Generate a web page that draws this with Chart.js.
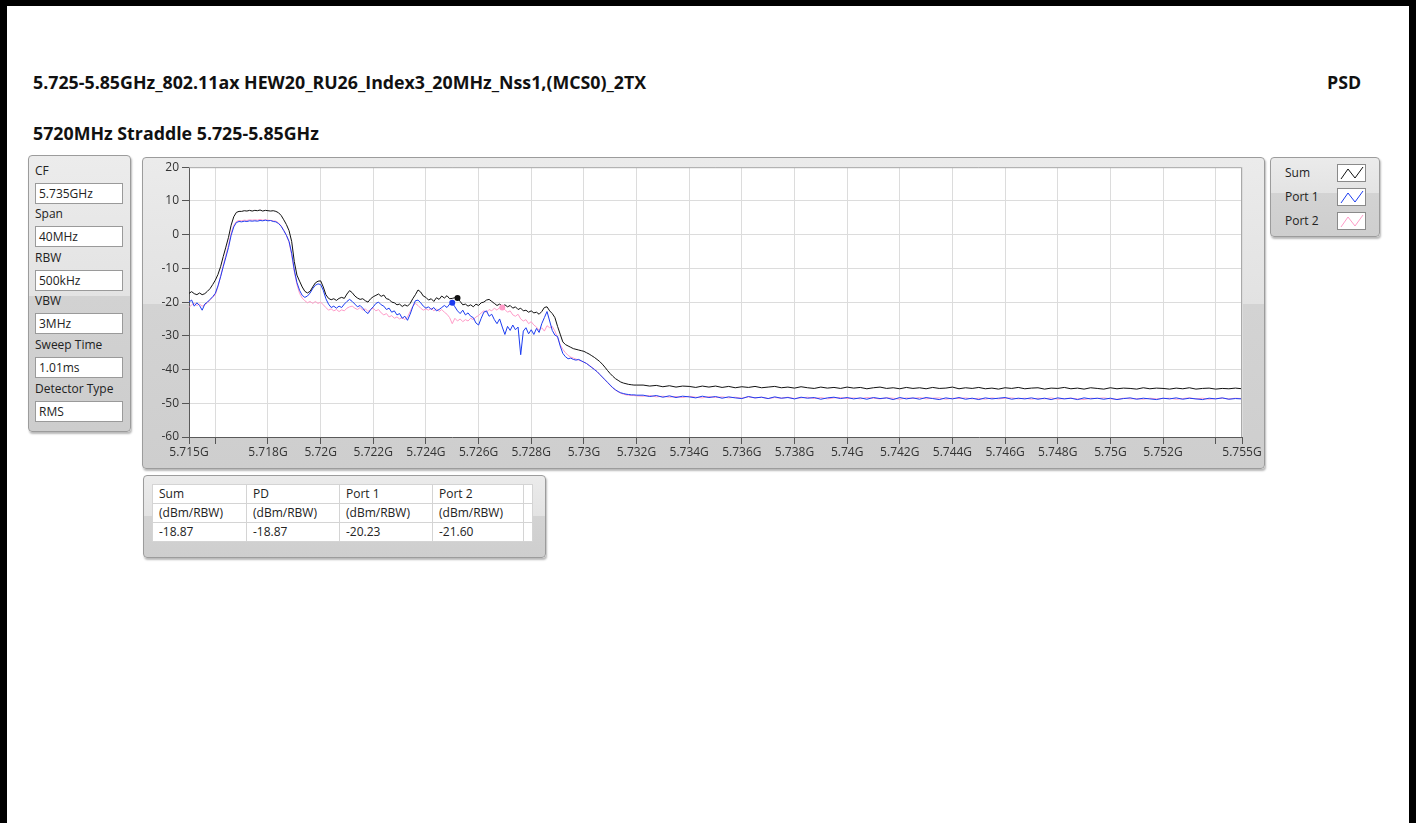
<!DOCTYPE html>
<html>
<head>
<meta charset="utf-8">
<script src="https://cdn.jsdelivr.net/npm/chart.js@4.4.1/dist/chart.umd.min.js"></script>
<style>
  body { margin:0; width:1416px; height:823px; overflow:hidden; background:#fff;
         font-family:"Open Sans","Noto Sans",sans-serif; font-size:12px; color:#222; }
  #page { position:absolute; left:0; top:0; width:1416px; height:823px; box-sizing:border-box;
          border-left:7px solid #000; border-top:6px solid #000; border-right:7px solid #000; }
  .title { position:absolute; font-weight:bold; font-size:17.8px; line-height:22px; color:#111; white-space:nowrap; }
  .panel { position:absolute; box-sizing:border-box; border:1px solid #9c9c9c; border-radius:4px;
           box-shadow:1px 2px 2px rgba(0,0,0,0.28); }
  .lbl { position:absolute; left:35px; line-height:16px; white-space:nowrap; color:#222; }
  .fld { position:absolute; left:35px; width:88px; height:21px; box-sizing:border-box; background:#fff;
         border:1px solid #9a9a9a; padding-left:3px; line-height:19px; }
  .leg { position:absolute; left:1285px; line-height:16px; }
  .sw { position:absolute; left:1337px; width:29px; height:18px; box-sizing:border-box; background:#fff; border:1px solid #8a8a8a; }
  #tbl { position:absolute; left:152px; top:484px; border-collapse:collapse; background:#fff; border:1px solid #a8a8a8; table-layout:fixed; }
  #tbl td { border:1px solid #d4d4d4; padding:0 0 0 6px; height:18px; line-height:16px; white-space:nowrap; }
  #chart { position:absolute; left:142px; top:157px; }
</style>
</head>
<body>
<div id="page"></div>

<div class="title" style="left:33px;top:71px">5.725-5.85GHz_802.11ax HEW20_RU26_Index3_20MHz_Nss1,(MCS0)_2TX</div>
<div class="title" style="left:1327px;top:71px">PSD</div>
<div class="title" style="left:33px;top:122px">5720MHz Straddle 5.725-5.85GHz</div>

<div class="panel" style="left:28px;top:155px;width:103px;height:277px;background:linear-gradient(to bottom,#ececec 0%,#e3e3e3 51%,#d2d2d2 51%,#cdcdcd 100%)"></div>
<div id="params"></div>

<div class="panel" style="left:142px;top:157px;width:1123px;height:312px;background:linear-gradient(to bottom,#ebebeb 0%,#e2e2e2 47%,#d3d3d3 47%,#cecece 100%)"></div>
<canvas id="chart" width="1123" height="311"></canvas>

<div class="panel" style="left:1270px;top:157px;width:110px;height:80px;background:linear-gradient(to bottom,#ebebeb 0%,#e3e3e3 45%,#d3d3d3 45%,#cecece 100%)"></div>
<div id="legend"></div>

<div class="panel" style="left:143px;top:475px;width:403px;height:83px;background:linear-gradient(to bottom,#ebebeb 0%,#e3e3e3 50%,#d3d3d3 50%,#cecece 100%)"></div>
<table id="tbl"></table>

<script>
// sweep grid: fine part 5715.0..5732.0 MHz step 0.1, coarse part 5732.25..5755.0 step 0.25
const fineStart = 5715.0, fineStep = 0.1;
const coarseStart = 5732.25, coarseStep = 0.25;

const sumFine = [
  -17.4, -16.9, -17.5, -17.8, -17.3, -17.8, -17.5, -16.8, -16.0, -14.8,
  -13.5, -11.8, -9.5, -6.5, -3.7, -0.8, 2.8, 5.3, 6.6, 6.9,
  6.9, 7.1, 7.0, 7.2, 7.0, 7.2, 7.1, 7.3, 7.0, 7.2,
  7.1, 7.0, 7.1, 6.9, 6.5, 5.7, 4.4, 3.0, 1.2, -2.0,
  -8.0, -12.0, -13.8, -15.5, -16.8, -17.3, -16.8, -15.5, -14.3, -13.8,
  -13.7, -15.5, -17.8, -18.9, -19.3, -19.0, -19.5, -18.9, -18.6, -18.9,
  -17.6, -16.6, -17.2, -18.2, -18.8, -19.2, -19.0, -19.6, -20.0, -19.0,
  -18.4, -18.0, -17.6, -18.3, -17.9, -19.0, -19.2, -20.0, -20.2, -20.8,
  -20.6, -21.3, -20.8, -21.2, -20.4, -19.0, -17.8, -16.4, -17.0, -18.2,
  -18.6, -19.4, -19.0, -19.8, -18.7, -19.2, -18.2, -18.8, -18.1, -19.0,
  -18.9, -18.7, -18.8, -19.8, -20.8, -20.6, -21.2, -20.8, -21.4, -20.6,
  -21.0, -20.2, -20.0, -19.4, -19.2, -19.8, -20.4, -21.0, -20.6, -21.2,
  -20.8, -21.4, -21.0, -21.8, -21.4, -22.2, -21.8, -22.6, -22.4, -23.0,
  -22.6, -23.2, -23.0, -23.6, -22.8, -21.6, -21.4, -22.6, -23.4, -24.6,
  -27.2, -29.5, -31.8, -32.6, -33.0, -33.4, -33.8, -34.0, -34.2, -34.4,
  -34.6, -35.0, -35.4, -35.9, -36.4, -37.0, -37.6, -38.4, -39.3, -40.3,
  -41.2, -42.0, -42.7, -43.2, -43.7, -44.0, -44.2, -44.4, -44.5, -44.6,
  -44.6
];
const sumTail = [
  -44.6, -44.9, -44.7, -45.1, -44.8, -45.2, -44.9, -45.0, -45.3, -44.9,
  -45.2, -44.9, -45.3, -45.0, -45.4, -45.1, -45.3, -45.0, -45.4, -45.2,
  -45.0, -45.4, -45.2, -45.5, -45.1, -45.4, -45.6, -45.2, -45.5, -45.3,
  -45.6, -45.2, -45.5, -45.3, -45.7, -45.4, -45.2, -45.6, -45.4, -45.7,
  -45.3, -45.6, -45.4, -45.7, -45.3, -45.6, -45.5, -45.2, -45.7, -45.4,
  -45.6, -45.3, -45.7, -45.5, -45.8, -45.4, -45.6, -45.3, -45.7, -45.5,
  -45.4, -45.8, -45.5, -45.6, -45.3, -45.7, -45.5, -45.8, -45.4, -45.6,
  -45.8, -45.4, -45.7, -45.5, -45.6, -45.8, -45.4, -45.7, -45.5, -45.6,
  -45.8, -45.5, -45.7, -45.4, -45.8, -45.6, -45.5, -45.8, -45.6, -45.7,
  -45.5, -45.7
];

const port1Fine = [
  -20.0, -19.4, -21.2, -20.2, -21.0, -22.4, -20.6, -20.0, -19.2, -18.4,
  -17.4, -15.2, -12.5, -9.5, -6.7, -3.8, -0.2, 2.3, 3.6, 3.9,
  3.8, 4.0, 3.9, 4.1, 4.0, 4.1, 4.0, 4.2, 4.1, 4.3,
  4.1, 4.2, 3.9, 3.8, 3.3, 2.5, 1.2, -0.2, -2.0, -5.5,
  -10.5, -14.2, -16.5, -18.0, -18.6, -18.2, -17.3, -16.0, -15.0, -14.6,
  -14.8, -16.5, -19.0, -20.6, -21.6, -21.2, -21.8, -21.2, -21.6, -20.6,
  -19.8, -19.2, -19.8, -20.6, -21.4, -21.0, -21.8, -22.8, -23.4, -22.2,
  -21.4, -20.4, -20.0, -20.8, -21.2, -22.2, -21.8, -23.0, -22.6, -23.8,
  -23.4, -24.8, -24.2, -25.4, -23.6, -21.4, -19.6, -19.4, -20.2, -21.2,
  -21.8, -21.4, -22.2, -21.6, -22.6, -22.2, -21.6, -21.0, -21.6, -20.6,
  -20.2, -21.4, -22.6, -23.4, -22.4, -23.8, -23.2, -24.2, -24.6, -26.2,
  -26.8, -24.8, -23.0, -22.6, -24.2, -23.6, -25.2, -26.4, -25.0, -27.4,
  -29.6, -27.2, -28.4, -26.8, -28.2, -27.4, -35.6, -28.6, -27.6, -29.4,
  -28.2, -29.6, -27.8, -29.0, -26.4, -24.6, -22.8, -25.6, -28.4, -29.8,
  -30.2, -33.0, -35.2, -36.2, -36.8, -36.6, -37.0, -37.2, -37.0, -37.4,
  -37.8, -38.2, -38.8, -39.4, -40.0, -40.6, -41.4, -42.2, -43.0, -43.8,
  -44.6, -45.4, -46.0, -46.5, -46.9, -47.1, -47.3, -47.4, -47.5, -47.5,
  -47.6
];
const port1Tail = [
  -47.6, -48.0, -47.7, -48.2, -47.8, -48.3, -47.9, -48.1, -48.4, -47.9,
  -48.3, -48.0, -48.5, -48.1, -48.4, -48.6, -48.0, -48.4, -48.2, -48.6,
  -48.1, -48.5, -48.3, -48.7, -48.2, -48.5, -48.3, -48.8, -48.4, -48.2,
  -48.6, -48.3, -48.7, -48.4, -48.8, -48.3, -48.6, -48.4, -48.9, -48.3,
  -48.7, -48.4, -48.8, -48.3, -48.6, -48.9, -48.4, -48.7, -48.3, -48.8,
  -48.5, -48.9, -48.4, -48.7, -48.5, -48.3, -48.8, -48.5, -48.7, -48.4,
  -48.8, -48.5, -48.9, -48.4, -48.7, -48.5, -48.9, -48.4, -48.7, -48.5,
  -48.8, -48.5, -48.9, -48.6, -48.4, -48.8, -48.5, -48.7, -48.9, -48.5,
  -48.7, -48.4, -48.8, -48.5, -48.7, -48.9, -48.5, -48.7, -48.4, -48.8,
  -48.6, -48.7
];

const port2Fine = [
  -21.6, -20.8, -20.4, -21.0, -20.6, -21.2, -20.8, -20.2, -19.4, -18.6,
  -17.8, -15.4, -12.4, -9.2, -6.2, -3.2, 0.4, 2.8, 3.9, 4.2,
  4.1, 4.3, 4.2, 4.4, 4.3, 4.4, 4.3, 4.5, 4.3, 4.4,
  4.3, 4.2, 4.1, 4.0, 3.5, 2.6, 1.3, -0.2, -2.2, -6.0,
  -11.0, -14.8, -17.4, -18.8, -19.6, -20.2, -19.8, -20.4, -19.8, -20.4,
  -20.0, -20.8, -21.6, -22.4, -22.0, -22.6, -22.2, -22.8, -22.3, -22.6,
  -21.8, -21.4, -21.2, -21.8, -22.2, -21.6, -22.4, -22.0, -22.8, -22.2,
  -21.8, -22.6, -22.2, -23.2, -23.8, -23.4, -24.4, -24.0, -24.8, -24.4,
  -25.0, -24.6, -25.2, -24.4, -22.8, -21.2, -20.4, -21.0, -21.8, -22.4,
  -22.0, -22.4, -21.8, -22.6, -22.0, -22.8, -22.2, -23.0, -23.6, -24.6,
  -26.4, -24.8, -25.6, -25.0, -25.8, -25.2, -25.6, -24.8, -25.2, -24.4,
  -24.0, -23.2, -22.6, -23.0, -22.2, -22.6, -21.8, -22.4, -21.6, -21.6,
  -22.2, -23.0, -22.6, -23.8, -24.2, -23.6, -25.0, -25.6, -25.2, -26.4,
  -25.8, -26.8, -27.4, -28.4, -27.6, -28.6, -27.0, -27.6, -27.2, -28.6,
  -30.5, -32.6, -34.0, -35.0, -35.8, -36.3, -36.6, -36.9, -37.2, -37.5,
  -37.8, -38.2, -38.7, -39.3, -39.9, -40.6, -41.5, -42.3, -43.1, -43.9,
  -44.7, -45.5, -46.1, -46.6, -47.0, -47.3, -47.5, -47.6, -47.7, -47.7,
  -47.8
];
const port2Tail = [
  -47.9, -47.7, -48.1, -47.9, -48.2, -48.0, -48.3, -47.9, -48.2, -48.4,
  -48.0, -48.3, -48.1, -48.4, -48.2, -48.5, -48.1, -48.4, -48.2, -48.6,
  -48.3, -48.5, -48.2, -48.6, -48.4, -48.2, -48.6, -48.3, -48.7, -48.4,
  -48.3, -48.6, -48.4, -48.7, -48.3, -48.5, -48.7, -48.4, -48.5, -48.8,
  -48.4, -48.6, -48.3, -48.7, -48.5, -48.4, -48.8, -48.5, -48.6, -48.4,
  -48.7, -48.5, -48.8, -48.4, -48.7, -48.5, -48.4, -48.7, -48.5, -48.8,
  -48.5, -48.7, -48.4, -48.8, -48.6, -48.5, -48.7, -48.9, -48.5, -48.6,
  -48.4, -48.7, -48.8, -48.5, -48.7, -48.6, -48.8, -48.5, -48.7, -48.6,
  -48.5, -48.8, -48.6, -48.4, -48.7, -48.5, -48.8, -48.6, -48.5, -48.7,
  -48.5, -48.6
];

// cursor markers (Sum, Port 1, Port 2)
const markerFreqs = [5725.2, 5725.0, 5726.9];
const markerLevels = [-18.8, -20.2, -21.6];

const xTickValues = [5715, 5716, 5718, 5720, 5722, 5724, 5726, 5728, 5730, 5732, 5734, 5736,
                     5738, 5740, 5742, 5744, 5746, 5748, 5750, 5752, 5754, 5755];
const xTickLabels = ['5.715G', '', '5.718G', '5.72G', '5.722G', '5.724G', '5.726G', '5.728G', '5.73G',
                     '5.732G', '5.734G', '5.736G', '5.738G', '5.74G', '5.742G', '5.744G', '5.746G',
                     '5.748G', '5.75G', '5.752G', '', '5.755G'];
const yTickValues = [-60, -50, -40, -30, -20, -10, 0, 10, 20];

const seriesNames = ['Sum', 'Port 1', 'Port 2'];
const seriesColors = ['#111111', '#1c3cf0', '#ff9cc8'];

const paramNames = ['CF', 'Span', 'RBW', 'VBW', 'Sweep Time', 'Detector Type'];
const paramValues = ['5.735GHz', '40MHz', '500kHz', '3MHz', '1.01ms', 'RMS'];

const tableHeaders = ['Sum', 'PD', 'Port 1', 'Port 2'];
const tableUnits = ['(dBm/RBW)', '(dBm/RBW)', '(dBm/RBW)', '(dBm/RBW)'];
const tableValues = ['-18.87', '-18.87', '-20.23', '-21.60'];

// ---- side panels ----
const fieldTops = [183, 226, 270, 313, 357, 401];
let html = '';
paramNames.forEach((n, i) => {
  html += `<div class="lbl" style="top:${fieldTops[i] - 20}px">${n}</div>`;
  html += `<div class="fld" style="top:${fieldTops[i]}px">${paramValues[i]}</div>`;
});
document.getElementById('params').innerHTML = html;

const legTops = [164, 188, 212];
html = '';
seriesNames.forEach((n, i) => {
  html += `<div class="leg" style="top:${legTops[i] + 1}px">${n}</div>`;
  html += `<div class="sw" style="top:${legTops[i]}px"><svg width="27" height="16">` +
          `<polyline points="3,14 10,4 17,13 25,2" fill="none" stroke="${seriesColors[i]}" stroke-width="1"/></svg></div>`;
});
document.getElementById('legend').innerHTML = html;

const colW = [94, 93, 93, 91, 9];
const row = cells => '<tr>' + cells.concat(['']).map((c, i) => `<td style="width:${colW[i] - 7}px">${c}</td>`).join('') + '</tr>';
document.getElementById('tbl').innerHTML = row(tableHeaders) + row(tableUnits) + row(tableValues);

// ---- chart ----
function trace(fine, tail) {
  const pts = fine.map((v, i) => ({x: fineStart + i * fineStep, y: v}));
  return pts.concat(tail.map((v, i) => ({x: coarseStart + i * coarseStep, y: v})));
}

const plotBg = {
  id: 'plotBg',
  beforeDraw(chart) {
    const {ctx, chartArea: a} = chart;
    ctx.save();
    ctx.fillStyle = '#ffffff';
    ctx.fillRect(a.left, a.top, a.right - a.left, a.bottom - a.top);
    ctx.restore();
  },
  afterDraw(chart) {
    const {ctx, chartArea: a} = chart;
    ctx.save();
    ctx.strokeStyle = '#a9a9a9';
    ctx.lineWidth = 1;
    ctx.beginPath();
    ctx.moveTo(a.left, a.top + 0.5);
    ctx.lineTo(a.right - 0.5, a.top + 0.5);
    ctx.lineTo(a.right - 0.5, a.bottom);
    ctx.stroke();
    ctx.restore();
  }
};

const tickFont = {family: '"Open Sans", "Noto Sans", sans-serif', size: 12};

new Chart(document.getElementById('chart'), {
  type: 'line',
  data: {
    datasets: [
      {label: 'Sum', data: trace(sumFine, sumTail), borderColor: seriesColors[0]},
      {label: 'Port 1', data: trace(port1Fine, port1Tail), borderColor: seriesColors[1]},
      {label: 'Port 2', data: trace(port2Fine, port2Tail), borderColor: seriesColors[2]},
      ...markerFreqs.map((f, i) => ({
        type: 'scatter', order: -1, data: [{x: f, y: markerLevels[i]}],
        pointRadius: 3, pointBackgroundColor: seriesColors[i], pointBorderWidth: 0
      }))
    ]
  },
  options: {
    responsive: false,
    animation: false,
    devicePixelRatio: 1,
    layout: {padding: {left: 0, top: 9, right: 23, bottom: 0}},
    elements: {line: {borderWidth: 1, tension: 0}, point: {radius: 0}},
    plugins: {legend: {display: false}, tooltip: {enabled: false}},
    scales: {
      x: {
        type: 'linear', min: 5715, max: 5755,
        afterBuildTicks: s => { s.ticks = xTickValues.map(v => ({value: v})); },
        afterFit: s => { s.height = 31; },
        ticks: {autoSkip: false, maxRotation: 0, padding: 1, color: '#333', font: tickFont,
                callback: (v, i) => xTickLabels[i]},
        grid: {color: '#dcdcdc', tickColor: '#555', tickLength: 7},
        border: {color: '#5a5a5a'}
      },
      y: {
        min: -60, max: 20,
        afterBuildTicks: s => { s.ticks = yTickValues.map(v => ({value: v})); },
        afterFit: s => { s.width = 47; },
        ticks: {padding: 3, color: '#333', font: tickFont, callback: v => String(v)},
        grid: {color: '#dcdcdc', tickColor: '#555', tickLength: 7},
        border: {color: '#5a5a5a'}
      }
    }
  },
  plugins: [plotBg]
});
</script>
</body>
</html>
